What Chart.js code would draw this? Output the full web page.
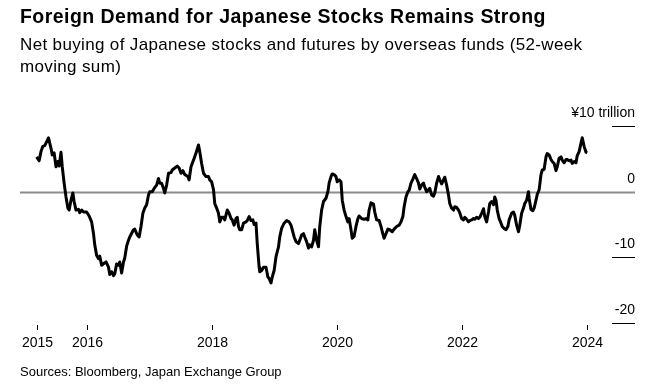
<!DOCTYPE html>
<html>
<head>
<meta charset="utf-8">
<script src="https://cdn.jsdelivr.net/npm/chart.js@4.4.1/dist/chart.umd.min.js"></script>
<style>
  body { margin: 0; background: #fff; font-family: "Liberation Sans", Arial, sans-serif; }
  .wrap { position: relative; width: 655px; height: 385px; }
  .title { position: absolute; left: 20px; top: 5px; font-size: 19.5px; letter-spacing: 0.45px; font-weight: bold; color: #000; white-space: nowrap; }
  .subtitle { position: absolute; left: 20px; top: 34px; width: 595px; font-size: 17px; letter-spacing: 0.35px; line-height: 22px; color: #000; }
  .source { position: absolute; left: 20px; top: 364px; font-size: 13px; color: #000; }
  canvas { position: absolute; left: 0; top: 0; }
</style>
</head>
<body>
<div class="wrap">
  <canvas id="chart" width="655" height="385"></canvas>
  <div class="title">Foreign Demand for Japanese Stocks Remains Strong</div>
  <div class="subtitle">Net buying of Japanese stocks and futures by overseas funds (52-week moving sum)</div>
  <div class="source">Sources: Bloomberg, Japan Exchange Group</div>
</div>
<script>
// weekly dates as decimal years, values in ¥ trillion
const dates = [
  2015.20, 2015.24, 2015.27, 2015.30, 2015.33, 2015.39, 2015.43, 2015.45, 2015.48, 2015.51,
  2015.54, 2015.56, 2015.59, 2015.61, 2015.64, 2015.67, 2015.70, 2015.72, 2015.75, 2015.78,
  2015.80, 2015.83, 2015.87, 2015.89, 2015.92, 2015.95, 2016.00, 2016.04, 2016.08, 2016.11,
  2016.13, 2016.16, 2016.19, 2016.21, 2016.24, 2016.28, 2016.31, 2016.35, 2016.37, 2016.40,
  2016.43, 2016.45, 2016.48, 2016.51, 2016.53, 2016.56, 2016.59, 2016.61, 2016.64, 2016.67,
  2016.69, 2016.75, 2016.77, 2016.81, 2016.84, 2016.87, 2016.90, 2016.93, 2016.96, 2016.99,
  2017.01, 2017.05, 2017.08, 2017.12, 2017.15, 2017.17, 2017.20, 2017.23, 2017.25, 2017.28,
  2017.31, 2017.35, 2017.37, 2017.41, 2017.45, 2017.48, 2017.51, 2017.54, 2017.57, 2017.62,
  2017.64, 2017.67, 2017.71, 2017.75, 2017.79, 2017.81, 2017.84, 2017.87, 2017.91, 2017.95,
  2017.97, 2018.00, 2018.03, 2018.05, 2018.08, 2018.11, 2018.13, 2018.16, 2018.19, 2018.21,
  2018.25, 2018.28, 2018.31, 2018.33, 2018.36, 2018.39, 2018.41, 2018.43, 2018.45, 2018.48,
  2018.51, 2018.55, 2018.57, 2018.60, 2018.63, 2018.66, 2018.68, 2018.71, 2018.73, 2018.76,
  2018.77, 2018.80, 2018.83, 2018.87, 2018.90, 2018.92, 2018.95, 2018.97, 2019.00, 2019.03,
  2019.07, 2019.09, 2019.12, 2019.16, 2019.20, 2019.24, 2019.27, 2019.29, 2019.32, 2019.35,
  2019.39, 2019.41, 2019.44, 2019.47, 2019.49, 2019.52, 2019.55, 2019.57, 2019.60, 2019.63,
  2019.65, 2019.68, 2019.71, 2019.73, 2019.76, 2019.79, 2019.83, 2019.86, 2019.88, 2019.91,
  2019.93, 2019.96, 2019.99, 2020.01, 2020.04, 2020.07, 2020.09, 2020.12, 2020.15, 2020.18,
  2020.20, 2020.23, 2020.25, 2020.28, 2020.31, 2020.34, 2020.36, 2020.40, 2020.44, 2020.47,
  2020.50, 2020.52, 2020.55, 2020.59, 2020.61, 2020.64, 2020.68, 2020.71, 2020.73, 2020.76,
  2020.79, 2020.82, 2020.85, 2020.89, 2020.92, 2020.96, 2021.00, 2021.03, 2021.06, 2021.08,
  2021.11, 2021.14, 2021.16, 2021.19, 2021.22, 2021.25, 2021.28, 2021.31, 2021.33, 2021.36,
  2021.39, 2021.41, 2021.44, 2021.47, 2021.49, 2021.52, 2021.55, 2021.57, 2021.60, 2021.63,
  2021.65, 2021.68, 2021.71, 2021.73, 2021.76, 2021.79, 2021.81, 2021.84, 2021.87, 2021.89,
  2021.92, 2021.95, 2021.97, 2022.00, 2022.03, 2022.05, 2022.08, 2022.11, 2022.13, 2022.16,
  2022.19, 2022.21, 2022.24, 2022.27, 2022.29, 2022.32, 2022.35, 2022.37, 2022.40, 2022.43,
  2022.45, 2022.48, 2022.51, 2022.53, 2022.55, 2022.57, 2022.60, 2022.63, 2022.65, 2022.68,
  2022.71, 2022.74, 2022.76, 2022.80, 2022.83, 2022.85, 2022.88, 2022.91, 2022.93, 2022.96,
  2022.99, 2023.01, 2023.04, 2023.07, 2023.08, 2023.11, 2023.14, 2023.16, 2023.19, 2023.21,
  2023.24, 2023.27, 2023.29, 2023.32, 2023.35, 2023.37, 2023.40, 2023.43, 2023.45, 2023.48,
  2023.51, 2023.53, 2023.56, 2023.59, 2023.61, 2023.64, 2023.67, 2023.69, 2023.72, 2023.75,
  2023.77, 2023.80, 2023.83, 2023.85, 2023.88, 2023.91, 2023.93, 2023.96, 2023.99, 2024.01
];
const netBuying = [
  5.3, 4.7, 6.1, 6.9, 7.0, 8.2, 6.6, 5.6, 5.9, 3.8,
  4.6, 3.9, 6.0, 3.8, 1.3, -0.8, -2.5, -2.8, -1.3, -0.2,
  -1.5, -2.8, -2.7, -3.2, -2.8, -3.1, -3.1, -3.7, -4.6, -6.4,
  -8.1, -9.7, -10.2, -9.8, -11.2, -10.9, -10.7, -11.5, -12.6, -12.2,
  -12.8, -12.5, -11.0, -11.2, -10.7, -12.4, -10.7, -10.1, -8.3, -7.4,
  -6.9, -5.8, -5.7, -6.6, -6.9, -5.3, -3.3, -2.5, -2.0, -0.5,
  0, 0, 0.5, 1.0, 2.0, 1.3, 1.3, 0.5, -0.2, 1.0,
  2.8, 2.9, 3.3, 3.6, 3.9, 3.6, 2.8, 3.2, 2.6, 2.3,
  1.8, 3.8, 4.8, 5.9, 7.1, 6.1, 4.3, 2.8, 2.3, 2.3,
  1.8, 1.5, 0.3, -1.8, -2.5, -3.3, -4.6, -3.9, -3.9, -4.3,
  -2.8, -3.3, -4.1, -4.3, -5.1, -4.1, -3.9, -5.3, -5.8, -5.8,
  -4.8, -4.6, -4.4, -3.8, -4.4, -4.3, -5.0, -4.8, -7.9, -11.5,
  -12.2, -12.0, -11.5, -11.5, -13.0, -13.2, -13.9, -13.0, -12.0, -9.9,
  -8.4, -6.9, -5.6, -4.8, -4.4, -4.6, -5.1, -5.8, -6.9, -7.6,
  -7.9, -7.4, -6.6, -6.4, -6.9, -7.6, -8.6, -8.1, -8.4, -7.4,
  -5.8, -7.4, -8.4, -5.3, -2.8, -1.5, -1.0, 0, 1.3, 2.3,
  2.7, 2.6, 2.3, 1.5, 1.8, 1.5, -1.3, -2.8, -3.8, -4.6,
  -4.1, -5.8, -7.1, -6.8, -5.3, -4.1, -3.7, -4.1, -4.2, -4.1,
  -4.3, -2.8, -1.7, -1.9, -3.1, -4.3, -4.4, -5.3, -6.1, -7.1,
  -6.4, -5.7, -5.8, -6.1, -5.7, -5.3, -5.1, -4.6, -3.8, -2.3,
  -0.8, 0, 0.2, 1.3, 1.9, 2.6, 2.0, 1.3, 0.4, 1.0,
  1.3, 0.7, 0, 0.3, 0.5, -0.5, -0.7, -0.2, 1.3, 2.3,
  1.8, 1.2, 1.8, 2.2, 1.0, -0.5, -1.8, -2.5, -2.8, -2.3,
  -2.4, -2.8, -3.2, -4.1, -4.3, -3.9, -4.2, -4.6, -4.4, -4.3,
  -4.1, -4.2, -3.9, -4.1, -3.9, -3.3, -2.6, -3.8, -4.6, -3.1,
  -1.8, -1.5, -2.0, -0.8, -1.3, -2.8, -4.1, -4.8, -5.3, -5.6,
  -5.8, -5.3, -4.3, -3.3, -3.1, -3.6, -5.1, -6.1, -5.1, -3.3,
  -2.5, -1.8, -1.3, 0, -1.0, -2.7, -2.9, -2.5, -1.3, -0.4,
  0.3, 2.6, 3.3, 3.4, 5.3, 5.8, 5.6, 4.9, 4.6, 4.3,
  3.2, 3.8, 5.1, 5.3, 4.8, 4.4, 4.9, 4.9, 4.7, 4.8,
  4.3, 4.6, 4.4, 5.5, 6.1, 7.4, 8.2, 6.9, 6.0, 5.9
];

const xTickValues = [2015.2, 2016, 2018, 2020, 2022, 2024];
const xTickLabels = ["2015", "2016", "2018", "2020", "2022", "2024"];
const yTickValues = [10, 0, -10, -20];
const yTickLabels = ["¥10 trillion", "0", "-10", "-20"];

const FONT = '"Liberation Sans", Arial, sans-serif';

// zero line, short y ticks with labels above them, x ticks and year labels
const axisPlugin = {
  id: "bbgAxes",
  beforeDatasetsDraw(chart) {
    const { ctx, chartArea, scales } = chart;
    const y0 = Math.round(scales.y.getPixelForValue(0)) + 0.5;
    ctx.save();
    ctx.strokeStyle = "#8c8c8c";
    ctx.lineWidth = 2;
    ctx.beginPath();
    ctx.moveTo(chartArea.left, y0);
    ctx.lineTo(chartArea.right, y0);
    ctx.stroke();
    ctx.restore();
  },
  afterDraw(chart) {
    const { ctx, chartArea, scales } = chart;
    ctx.save();
    ctx.font = "14px " + FONT;
    ctx.fillStyle = "#000";

    ctx.textAlign = "right";
    ctx.textBaseline = "alphabetic";
    yTickValues.forEach((v, i) => {
      const py = Math.round(scales.y.getPixelForValue(v)) + 0.5;
      if (v !== 0) {
        ctx.strokeStyle = "#000";
        ctx.lineWidth = 1;
        ctx.beginPath();
        ctx.moveTo(chartArea.right - 23, py);
        ctx.lineTo(chartArea.right, py);
        ctx.stroke();
      }
      ctx.fillText(yTickLabels[i], chartArea.right, py - 10);
    });

    ctx.textAlign = "center";
    ctx.textBaseline = "middle";
    xTickValues.forEach((v, i) => {
      const px = Math.round(scales.x.getPixelForValue(v)) + 0.5;
      ctx.strokeStyle = "#000";
      ctx.lineWidth = 1;
      ctx.beginPath();
      ctx.moveTo(px, chartArea.bottom + 2);
      ctx.lineTo(px, chartArea.bottom + 7);
      ctx.stroke();
      ctx.fillText(xTickLabels[i], px, chartArea.bottom + 20);
    });
    ctx.restore();
  }
};

new Chart(document.getElementById("chart"), {
  type: "line",
  data: {
    datasets: [{
      data: dates.map((d, i) => ({ x: d, y: netBuying[i] })),
      borderColor: "#000",
      borderWidth: 3,
      pointRadius: 0,
      tension: 0,
      borderJoinStyle: "round",
      fill: false
    }]
  },
  options: {
    responsive: false,
    animation: false,
    layout: { padding: { left: 20, right: 20, top: 126, bottom: 62 } },
    plugins: { legend: { display: false }, tooltip: { enabled: false } },
    scales: {
      x: { type: "linear", display: false, min: 2014.934, max: 2024.774 },
      y: { display: false, min: -20, max: 10 }
    }
  },
  plugins: [axisPlugin]
});
</script>
</body>
</html>
